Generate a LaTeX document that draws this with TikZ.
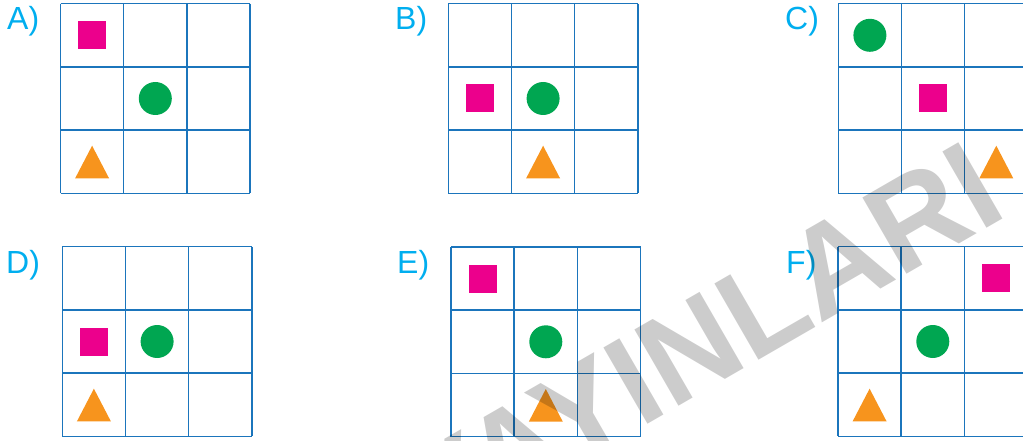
\documentclass[tikz,border=0pt]{standalone}
\usepackage{fontspec}
\setmainfont{Liberation Sans}
\usetikzlibrary{positioning}
\definecolor{gridblue}{HTML}{1B75BC}
\definecolor{labelcyan}{HTML}{00AEEF}
\definecolor{sqmagenta}{HTML}{EC008C}
\definecolor{dotgreen}{HTML}{00A651}
\definecolor{triorange}{HTML}{F7941D}
\newcommand{\cellsz}{63.2}

\begin{document}
\begin{tikzpicture}[
  x=1pt, y=-1pt,
  gridline/.style={draw=gridblue, line width=1.5pt},
  optlabel/.style={font=\fontsize{32}{36}\selectfont, text=labelcyan, inner sep=0pt, anchor=base west},
  sqbox/.style={fill=sqmagenta},
  dotfill/.style={fill=dotgreen},
  trifill/.style={fill=triorange},
  stamp/.style={font=\bfseries\fontsize{128}{128}\selectfont, text=black, text opacity=0.2, inner sep=0pt, anchor=base west, rotate=30}
]
  \useasboundingbox (0,0) rectangle (1023,441);

  % Panels: label/grid corner/label point/square/dot/triangle cells
  \foreach \lbl/\gx/\gy/\lx/\ly/\sqc/\sqr/\dotc/\dotr/\tric/\trir in {
      A/60.5/3.7/7/29.5/0/0/1/1/0/2,
      B/448.3/3.7/395/29.5/0/1/1/1/1/2,
      C/838.3/3.7/785/29.5/1/1/0/0/2/2,
      D/62.3/246.7/6/273/0/1/1/1/0/2,
      E/451/247/397/273/0/0/1/1/1/2,
      F/838/246.7/786/273/2/0/1/1/0/2}{
    % shapes
    \fill[sqbox] ({\gx+(\sqc+0.5)*\cellsz-14},{\gy+(\sqr+0.5)*\cellsz-14}) rectangle ++(28,28);
    \fill[dotfill] ({\gx+(\dotc+0.5)*\cellsz},{\gy+(\dotr+0.5)*\cellsz}) circle[radius=16.5];
    \fill[trifill] ({\gx+(\tric+0.5)*\cellsz},{\gy+(\trir+0.5)*\cellsz-16}) -- ++(17,32.7) -- ++(-34,0) -- cycle;
    % grid
    \foreach \i in {0,...,3}{
      \draw[gridline] ({\gx+\i*\cellsz},\gy) -- ++(0,{3*\cellsz});
      \draw[gridline] (\gx,{\gy+\i*\cellsz}) -- ++({3*\cellsz},0);
    }
    \node[optlabel] (lbl\lbl) at (\lx,\ly) {\lbl)};
  }

  % Watermark
  \node[stamp] (stamp) at (433,548) {YAYINLARI};
\end{tikzpicture}
\end{document}
